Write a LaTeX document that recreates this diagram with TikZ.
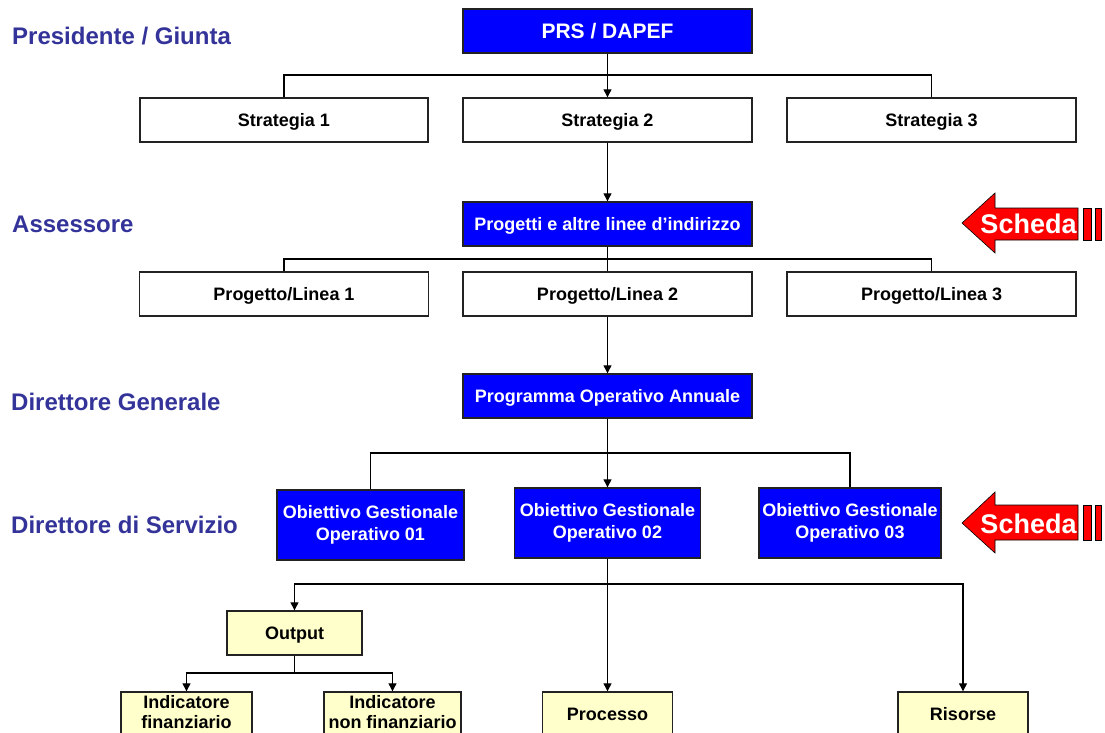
\documentclass[tikz,border=0pt]{standalone}
\usepackage{fontspec}
\setmainfont{Liberation Sans}
\usetikzlibrary{arrows.meta}
\definecolor{lbl}{RGB}{51,51,153}
\definecolor{bblue}{RGB}{0,0,255}
\definecolor{ylw}{RGB}{255,255,204}
\definecolor{edge}{RGB}{34,34,34}
\begin{document}
\begin{tikzpicture}[x=1pt,y=-1pt,
  box/.style={draw=edge, line width=1.4pt, inner sep=0pt, font=\bfseries\fontsize{18}{21.5}\selectfont, align=center},
  wbox/.style={box, fill=white},
  bbox/.style={box, fill=bblue, text=white},
  ybox/.style={box, fill=ylw},
  one/.style={text height=13pt, text depth=0pt},
  boxtext/.style={inner sep=0pt, align=center, font=\bfseries\fontsize{18}{20}\selectfont},
  conn/.style={draw=black, line width=1.2pt},
  arr/.style={conn, -{Triangle[length=8pt,width=8pt]}},
  lvl/.style={anchor=base west, text=lbl, font=\bfseries\fontsize{24}{28}\selectfont, inner sep=0pt},
  schedashape/.style={fill=red, draw=black, line width=0.6pt},
  schedatext/.style={anchor=base, text=white, inner sep=0pt, font=\bfseries\fontsize{27}{30}\selectfont}
]
\useasboundingbox (0,0) rectangle (1105,733);
\clip (0,0) rectangle (1105,733);

% level labels
\node[lvl] (lp) at (12,45) {Presidente / Giunta};
\node[lvl] (la) at (12,232.6) {Assessore};
\node[lvl] (ldg) at (11,410.6) {Direttore Generale};
\node[lvl] (lds) at (11,533.6) {Direttore di Servizio};

% boxes
\node[bbox, one, font=\bfseries\fontsize{21}{24}\selectfont, text height=15pt, minimum width=289pt, minimum height=44pt] (prs) at (607.5,31) {PRS / DAPEF};
\node[wbox, one, minimum width=288pt, minimum height=44pt] (s1) at (284,120) {Strategia 1};
\node[wbox, one, minimum width=289pt, minimum height=44pt] (s2) at (607.5,120) {Strategia 2};
\node[wbox, one, minimum width=289pt, minimum height=44pt] (s3) at (931.5,120) {Strategia 3};
\node[bbox, one, minimum width=289pt, minimum height=44pt] (prog) at (607.5,224) {Progetti e altre linee d’indirizzo};
\node[wbox, one, minimum width=289pt, minimum height=44pt] (p1) at (284,294) {Progetto/Linea 1};
\node[wbox, one, minimum width=289pt, minimum height=44pt] (p2) at (607.5,294) {Progetto/Linea 2};
\node[wbox, one, minimum width=289pt, minimum height=44pt] (p3) at (931.5,294) {Progetto/Linea 3};
\node[bbox, one, minimum width=289pt, minimum height=44pt] (poa) at (607.5,396) {Programma Operativo Annuale};
\node[bbox, minimum width=187pt, minimum height=70pt] (o1) at (370.5,525) {Obiettivo Gestionale\\Operativo 01};
\node[bbox, minimum width=186pt, minimum height=70pt] (o2) at (607.5,523) {Obiettivo Gestionale\\Operativo 02};
\node[bbox, minimum width=182pt, minimum height=70pt] (o3) at (850,523) {Obiettivo Gestionale\\Operativo 03};
\node[ybox, one, minimum width=135pt, minimum height=44pt] (out) at (294.5,633) {Output};
\node[ybox, one, minimum width=130pt, minimum height=44pt] (proc) at (607.5,714) {Processo};
\node[ybox, one, minimum width=130pt, minimum height=44pt] (ris) at (963,714) {Risorse};
\node[ybox, minimum width=131pt, minimum height=54pt] (i1) at (186.5,719) {};
\node[ybox, minimum width=137pt, minimum height=54pt] (i2) at (392.5,719) {};
\node[boxtext] (i1t) at (186.5,712.3) {Indicatore\\finanziario};
\node[boxtext] (i2t) at (392.5,712.3) {Indicatore\\non finanziario};

% connectors
\coordinate (b1) at (607.5,75);
\draw[conn] (s1.north) |- (b1) -| (s3.north);
\draw[arr] (prs.south) -- (s2.north);
\draw[arr] (s2.south) -- (prog.north);
\coordinate (b2) at (607.5,259);
\draw[conn] (p1.north) |- (b2) -| (p3.north);
\draw[conn] (prog.south) -- (p2.north);
\draw[arr] (p2.south) -- (poa.north);
\coordinate (b3) at (607.5,453);
\draw[conn] (o1.north) |- (b3) -| (o3.north);
\draw[arr] (poa.south) -- (o2.north);
\coordinate (b4) at (607.5,584);
\draw[arr] (o2.south) -- (proc.north);
\draw[arr] (b4) -| (out.north);
\draw[arr] (b4) -| (ris.north);
\coordinate (b5) at (294.5,673);
\draw[conn] (out.south) -- (b5);
\draw[arr] (b5) -| (i1.north);
\draw[arr] (b5) -| (i2.north);

% Scheda arrows
\draw[schedashape] (962,223) -- (995,193) -- (995,208) -- (1078,208) -- (1078,240) -- (995,240) -- (995,253) -- cycle;
\draw[schedashape] (1083,208) rectangle (1091,240);
\draw[schedashape] (1095,208) rectangle (1101,240);
\node[schedatext] (sch1) at (1028.5,233) {Scheda};
\draw[schedashape] (962,523) -- (995,492) -- (995,505) -- (1078,505) -- (1078,540) -- (995,540) -- (995,553) -- cycle;
\draw[schedashape] (1083,505) rectangle (1091,540);
\draw[schedashape] (1095,505) rectangle (1101,540);
\node[schedatext] (sch2) at (1028.5,533) {Scheda};
\end{tikzpicture}
\end{document}
